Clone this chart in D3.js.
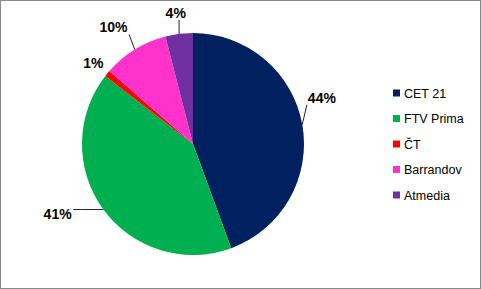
<!DOCTYPE html>
<html lang="en">
<head>
  <meta charset="UTF-8">
  <title>Pie chart - share</title>
  <script src="https://d3js.org/d3.v7.min.js"></script>
  <style>
    body { margin: 0; background: #fff; }
    svg { display: block; font-family: "Liberation Sans", Arial, sans-serif; }
  </style>
</head>
<body>
  <svg width="481" height="289"></svg>
  <script>
    // data
    const categories = ["CET 21", "FTV Prima", "ČT", "Barrandov", "Atmedia"];
    const shares = [44.4, 41.1, 0.9, 9.6, 4.0];
    const labels = ["44%", "41%", "1%", "10%", "4%"];
    const colors = ["#002060", "#00B050", "#FF0000", "#FF33CC", "#7030A0"];

    const data = categories.map((c, i) => ({name: c, value: shares[i], label: labels[i]}));

    const svg = d3.select("svg"),
          width = +svg.attr("width"),
          height = +svg.attr("height");

    // chart frame
    svg.append("rect")
      .attr("x", 0.5).attr("y", 0.5)
      .attr("width", width - 1).attr("height", height - 1)
      .attr("fill", "#fff")
      .attr("stroke", "#898989");

    const cx = 193, cy = 144, radius = 111;
    const color = d3.scaleOrdinal().domain(categories).range(colors);

    const pie = d3.pie().sort(null).value(d => d.value);
    const arc = d3.arc().innerRadius(0).outerRadius(radius);
    const labelArc = d3.arc().innerRadius(138).outerRadius(138);
    const arcs = pie(data);

    const g = svg.append("g").attr("transform", `translate(${cx},${cy})`);

    g.selectAll("path.slice")
      .data(arcs)
      .enter().append("path")
      .attr("class", "slice")
      .attr("d", arc)
      .attr("fill", d => color(d.data.name));

    // small per-label nudges, like Excel's best fit placement
    const nudge = [[-7, -22], [-24, -11], [7, 7], [-7, 1], [0, 6]];

    const texts = g.selectAll("text.pct")
      .data(arcs)
      .enter().append("text")
      .attr("class", "pct")
      .attr("x", (d, i) => labelArc.centroid(d)[0] + nudge[i][0])
      .attr("y", (d, i) => labelArc.centroid(d)[1] + nudge[i][1])
      .attr("text-anchor", "middle")
      .attr("dy", "0.35em")
      .attr("font-size", 14)
      .attr("font-weight", "bold")
      .attr("fill", "#000")
      .text(d => d.data.label);

    // leader lines from slice edge to nearest corner of the label
    texts.each(function(d) {
      const b = this.getBBox();
      const mid = (d.startAngle + d.endAngle) / 2;
      const sx = radius * Math.sin(mid), sy = -radius * Math.cos(mid);
      const ex = Math.max(b.x - 1, Math.min(sx, b.x + b.width + 1));
      const ey = Math.max(b.y, Math.min(sy, b.y + b.height - 1));
      if (Math.hypot(ex - sx, ey - sy) < 10) return;
      const pts = [[sx, sy]];
      if (Math.abs(ey - sy) < Math.abs(ex - sx) * 0.6) {
        // mostly sideways: Excel ends with a short horizontal run
        pts.push([ex + (sx > ex ? 8 : -8), ey]);
      }
      pts.push([ex, ey]);
      g.append("path")
        .attr("d", d3.line()(pts))
        .attr("fill", "none")
        .attr("stroke", "#222")
        .attr("stroke-width", 1);
    });

    // legend
    const legendY = d3.scalePoint().domain(categories).range([93, 195]);
    const legend = svg.append("g").selectAll("g")
      .data(categories)
      .enter().append("g")
      .attr("transform", d => `translate(393,${legendY(d)})`);

    legend.append("rect")
      .attr("x", 0).attr("y", -3.5)
      .attr("width", 7).attr("height", 7)
      .attr("fill", d => color(d));

    legend.append("text")
      .attr("x", 11)
      .attr("dy", "0.36em")
      .attr("font-size", 12.5)
      .attr("fill", "#000")
      .text(d => d);
  </script>
</body>
</html>
